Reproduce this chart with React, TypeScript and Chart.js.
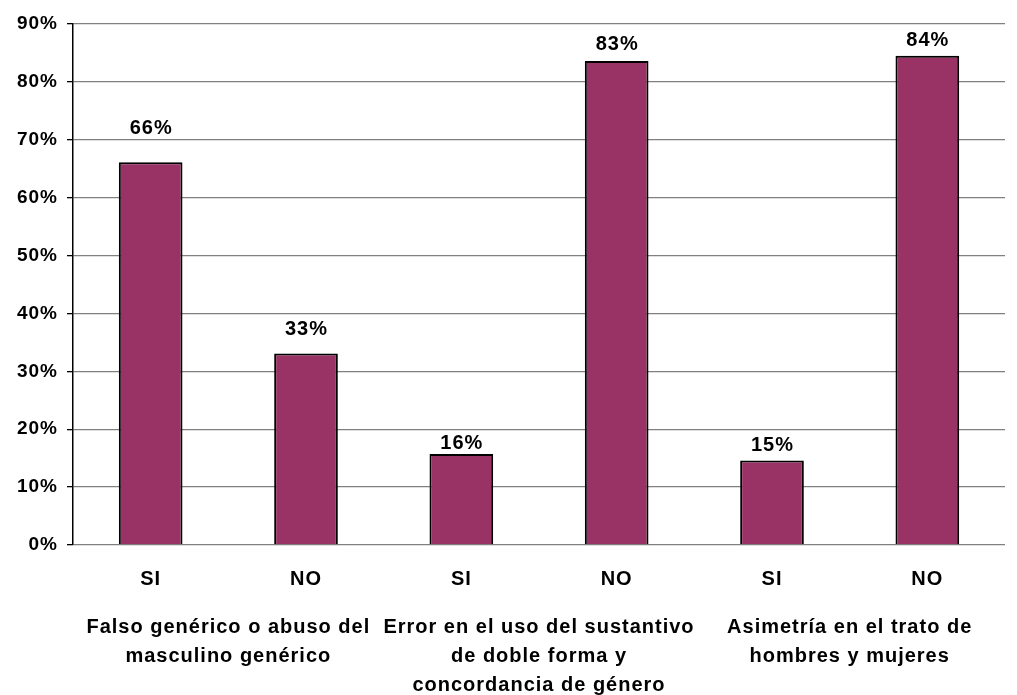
import React, { useEffect, useRef } from "react";
import { Chart, registerables } from "chart.js";

Chart.register(...registerables);

const categories = ["SI", "NO", "SI", "NO", "SI", "NO"];
const values = [66.1, 33.1, 15.7, 83.6, 14.6, 84.5];
const valueLabels = ["66%", "33%", "16%", "83%", "15%", "84%"];
const groupLabels: string[][] = [
  ["Falso genérico o abuso del", "masculino genérico"],
  ["Error en el uso del sustantivo", "de doble forma y", "concordancia de género"],
  ["Asimetría en el trato de", "hombres y mujeres"],
];
const labelGaps = [28, 18, 5, 11, 9, 10];

const FONT = "'Liberation Sans', Arial, sans-serif";

const spacingPlugin = {
  id: "spacing",
  beforeDraw(chart: any) {
    (chart.ctx as any).letterSpacing = "1px";
  },
};

const valueLabelPlugin = {
  id: "valueLabels",
  afterDatasetsDraw(chart: any) {
    const ctx = chart.ctx;
    const meta = chart.getDatasetMeta(0);
    ctx.save();
    (ctx as any).letterSpacing = "1px";
    ctx.font = `bold 20px ${FONT}`;
    ctx.fillStyle = "#000";
    ctx.textAlign = "center";
    ctx.textBaseline = "alphabetic";
    meta.data.forEach((bar: any, i: number) => {
      ctx.fillText(valueLabels[i], bar.x + 0.5, bar.y - labelGaps[i]);
    });
    ctx.restore();
  },
};

export default function App() {
  const ref = useRef<HTMLCanvasElement>(null);
  useEffect(() => {
    if (!ref.current) return;
    const chart = new Chart(ref.current, {
      type: "bar",
      data: {
        labels: categories,
        datasets: [
          {
            data: values,
            backgroundColor: "#993366",
            borderColor: "#000000",
            borderWidth: 2,
            borderSkipped: "bottom",
            barPercentage: 0.41,
            categoryPercentage: 1,
          },
        ],
      },
      options: {
        responsive: false,
        animation: false,
        layout: { padding: { left: 0, right: 12, top: 24, bottom: 0 } },
        plugins: {
          legend: { display: false },
          tooltip: { enabled: false },
        },
        scales: {
          x: {
            position: "bottom",
            grid: { display: false },
            border: { display: false },
            ticks: {
              color: "#000",
              font: { family: FONT, size: 20, weight: "bold" },
              padding: 14,
            },
            afterFit: (s: any) => {
              s.height = 50;
            },
          },
          x2: {
            type: "category",
            position: "bottom",
            labels: groupLabels as any,
            offset: true,
            grid: { display: false },
            border: { display: false },
            ticks: {
              color: "#000",
              font: { family: FONT, size: 20, weight: "bold", lineHeight: 1.45 },
              padding: 10,
              maxRotation: 0,
              autoSkip: false,
            },
            afterFit: (s: any) => {
              s.height = 100;
            },
          },
          y: {
            min: 0,
            max: 90,
            ticks: {
              stepSize: 10,
              color: "#000",
              font: { family: FONT, size: 19, weight: "bold" },
              padding: 9,
              callback: (v: any) => v + "%",
            },
            grid: {
              color: "#808080",
              lineWidth: 1.3,
              tickColor: "#000",
              tickLength: 6,
            },
            border: { display: true, color: "#000", width: 1.5 },
            afterFit: (s: any) => {
              s.width = 73;
            },
          },
        },
      },
      plugins: [spacingPlugin, valueLabelPlugin],
    });
    return () => chart.destroy();
  }, []);
  return (
    <div style={{ position: "fixed", left: 0, top: 0, width: 1017, height: 695, background: "#fff" }}>
      <canvas ref={ref} width={1017} height={695} />
    </div>
  );
}
